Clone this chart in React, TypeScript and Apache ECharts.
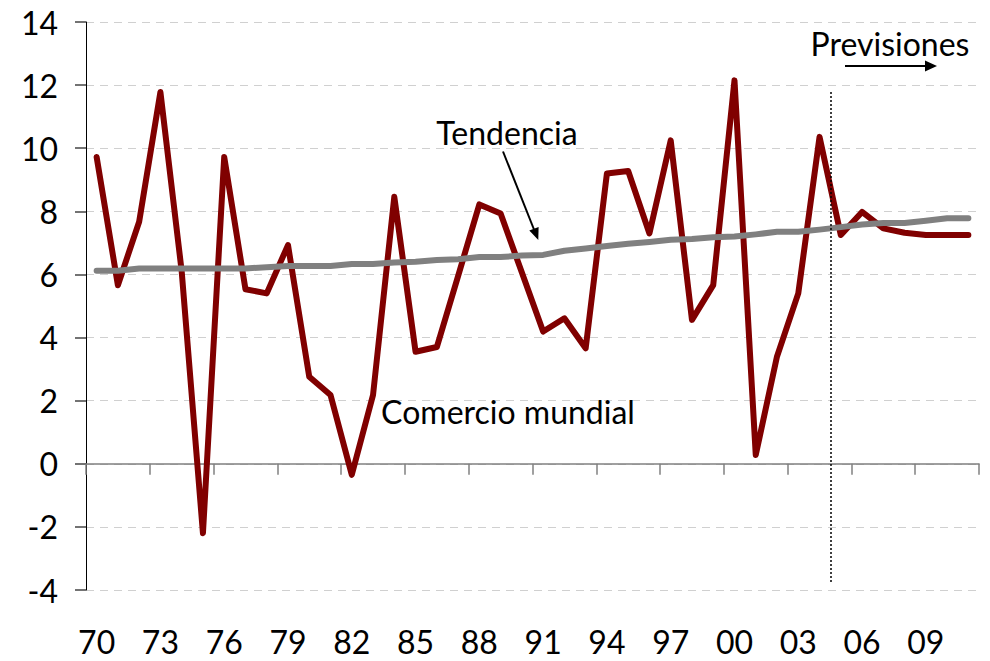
import React, { useEffect, useRef } from "react";
import * as echarts from "echarts";

const categories = [
  "70","71","72","73","74","75","76","77","78","79",
  "80","81","82","83","84","85","86","87","88","89",
  "90","91","92","93","94","95","96","97","98","99",
  "00","01","02","03","04","05","06","07","08","09",
  "10","11",
];

const comercioMundial = [
  9.72, 5.66, 7.67, 11.78, 6.1, -2.2, 9.72, 5.53, 5.4, 6.93,
  2.76, 2.18, -0.35, 2.18, 8.46, 3.55, 3.7, 5.95, 8.22, 7.93,
  6.06, 4.19, 4.61, 3.66, 9.2, 9.28, 7.3, 10.25, 4.56, 5.66,
  12.15, 0.28, 3.4, 5.4, 10.36, 7.25, 7.98, 7.46, 7.32, 7.25,
  7.25, 7.25,
];

const tendencia = [
  6.12, 6.12, 6.19, 6.19, 6.19, 6.19, 6.19, 6.19, 6.23, 6.27,
  6.27, 6.27, 6.33, 6.33, 6.38, 6.4, 6.46, 6.48, 6.55, 6.55,
  6.6, 6.62, 6.75, 6.82, 6.9, 6.97, 7.03, 7.1, 7.12, 7.18,
  7.2, 7.27, 7.35, 7.35, 7.42, 7.5, 7.58, 7.63, 7.63, 7.7,
  7.78, 7.78,
];

const FONT = "Lato, 'Open Sans', sans-serif";

export default function App() {
  const ref = useRef<HTMLDivElement>(null);
  useEffect(() => {
    if (!ref.current) return;
    const chart = echarts.init(ref.current, undefined, { renderer: "svg" });
    const textStyle = { fontFamily: FONT, fontSize: 32, fill: "#000" };
    chart.setOption({
      animation: false,
      backgroundColor: "#fff",
      grid: { left: 86, right: 11, top: 22, bottom: 71, containLabel: false },
      xAxis: [
        {
          type: "category",
          data: categories,
          boundaryGap: true,
          axisLine: { onZero: true, lineStyle: { color: "#808080", width: 1.5 } },
          axisTick: { show: true, interval: 2, length: 11, lineStyle: { color: "#808080", width: 1.5 } },
          axisLabel: { show: false },
          splitLine: { show: false },
        },
        {
          type: "category",
          data: categories,
          position: "bottom",
          boundaryGap: true,
          axisLine: { show: false, onZero: false },
          axisTick: { show: false },
          axisLabel: {
            interval: 2,
            margin: 35,
            color: "#000",
            fontFamily: FONT,
            fontSize: 32,
          },
          splitLine: { show: false },
        },
      ],
      yAxis: {
        type: "value",
        min: -4,
        max: 14,
        interval: 2,
        axisLine: { show: true, lineStyle: { color: "#000", width: 1 } },
        axisTick: { show: true, length: 11, lineStyle: { color: "#444", width: 1.5 } },
        axisLabel: { margin: 28, color: "#000", fontFamily: FONT, fontSize: 32 },
        splitLine: { show: true, lineStyle: { color: "#d0d0d0", type: [8, 6], width: 1.2 } },
      },
      series: [
        {
          name: "Comercio mundial",
          type: "line",
          data: comercioMundial,
          showSymbol: false,
          symbol: "none",
          lineStyle: { color: "#800000", width: 6, join: "round", cap: "round" },
          z: 2,
        },
        {
          name: "Tendencia",
          type: "line",
          data: tendencia,
          showSymbol: false,
          symbol: "none",
          lineStyle: { color: "#808080", width: 6, join: "round", cap: "round" },
          z: 3,
        },
      ],
      graphic: [
        {
          type: "line",
          shape: { x1: 831, y1: 92, x2: 831, y2: 583 },
          style: { stroke: "#000", lineWidth: 1.5, lineDash: [2, 2] },
          z: 10,
        },
        {
          type: "text",
          x: 890,
          y: 43,
          style: { ...textStyle, text: "Previsiones", align: "center", verticalAlign: "middle" },
          z: 10,
        },
        {
          type: "line",
          shape: { x1: 845, y1: 66, x2: 926, y2: 66 },
          style: { stroke: "#000", lineWidth: 2 },
          z: 10,
        },
        {
          type: "polygon",
          shape: { points: [[937, 66], [925, 60.5], [925, 71.5]] },
          style: { fill: "#000" },
          z: 10,
        },
        {
          type: "text",
          x: 507,
          y: 132,
          style: { ...textStyle, text: "Tendencia", align: "center", verticalAlign: "middle" },
          z: 10,
        },
        {
          type: "line",
          shape: { x1: 503, y1: 151.5, x2: 534, y2: 229.5 },
          style: { stroke: "#000", lineWidth: 2 },
          z: 10,
        },
        {
          type: "polygon",
          shape: { points: [[538.3, 240], [529.3, 230.6], [538.6, 227.0]] },
          style: { fill: "#000" },
          z: 10,
        },
        {
          type: "text",
          x: 508,
          y: 411,
          style: { ...textStyle, text: "Comercio mundial", align: "center", verticalAlign: "middle" },
          z: 10,
        },
      ],
    });
    return () => chart.dispose();
  }, []);
  return (
    <div
      ref={ref}
      style={{ position: "absolute", left: 0, top: 0, width: 990, height: 661, background: "#fff" }}
    />
  );
}
